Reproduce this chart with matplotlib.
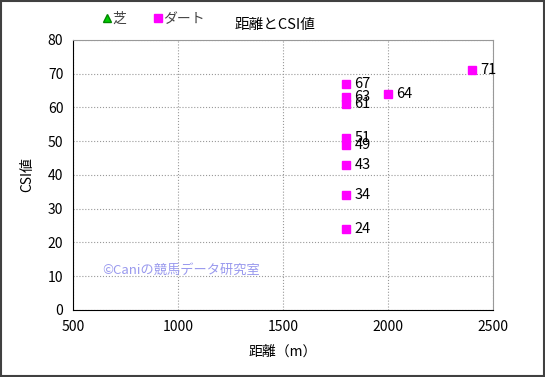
import matplotlib
matplotlib.use("Agg")
from matplotlib import pyplot as plt
from matplotlib.patches import Rectangle

plt.rcParams['font.family'] = ['Noto Sans CJK JP', 'DejaVu Sans']

# data
turf_dist = []
turf_csi = []
dirt_dist = [1800, 1800, 1800, 1800, 1800, 1800, 1800, 1800, 2000, 2400]
dirt_csi = [67, 63, 61, 51, 49, 43, 34, 24, 64, 71]
x_ticks = [500, 1000, 1500, 2000, 2500]
y_ticks = [0, 10, 20, 30, 40, 50, 60, 70, 80]

fig = plt.figure(figsize=(5.45, 3.77), dpi=100)
ax = fig.add_axes([0.134, 0.178, 0.771, 0.716])

ax.plot(turf_dist, turf_csi, linestyle='none', marker='^', color='#00cc00',
        markeredgecolor='#008800', markersize=6, label='芝')
ax.plot(dirt_dist, dirt_csi, linestyle='none', marker='s', color='#ff00ff',
        markersize=5.5, label='ダート')

for x, y in zip(dirt_dist, dirt_csi):
    ax.annotate(str(y), (x, y), xytext=(6, 0), textcoords='offset points',
                va='center', ha='left', fontsize=10.5)

ax.set_xlim(500, 2500)
ax.set_ylim(0, 80)
ax.set_xticks(x_ticks)
ax.set_yticks(y_ticks)
ax.tick_params(labelsize=10, length=0, pad=7)
ax.grid(True, linestyle=':', color='#999999', linewidth=0.8)
ax.set_axisbelow(True)
for s in ['top', 'right']:
    ax.spines[s].set_color('#999999')
for s in ['left', 'bottom']:
    ax.spines[s].set_color('black')

ax.set_xlabel('距離（m）', fontsize=10, labelpad=8)
ax.set_ylabel('CSI値', fontsize=10, labelpad=10)
fig.text(0.505, 0.935, '距離とCSI値', ha='center', va='center', fontsize=10.5)

ax.text(0.07, 0.145, '©Caniの競馬データ研究室', transform=ax.transAxes,
        color='#9999ee', fontsize=9.5, va='center')

leg = fig.legend(loc='center left', bbox_to_anchor=(0.16, 0.95), ncol=2,
                 frameon=False, fontsize=10, handletextpad=-0.1,
                 columnspacing=1.8, handlelength=1.0, markerscale=1.0)
for t in leg.get_texts():
    t.set_color('#444444')

fig.patches.append(Rectangle((0.002, 0.003), 0.996, 0.994, transform=fig.transFigure,
                             fill=False, edgecolor='#404040', linewidth=1.5))

fig.savefig('out.png', dpi=100)
